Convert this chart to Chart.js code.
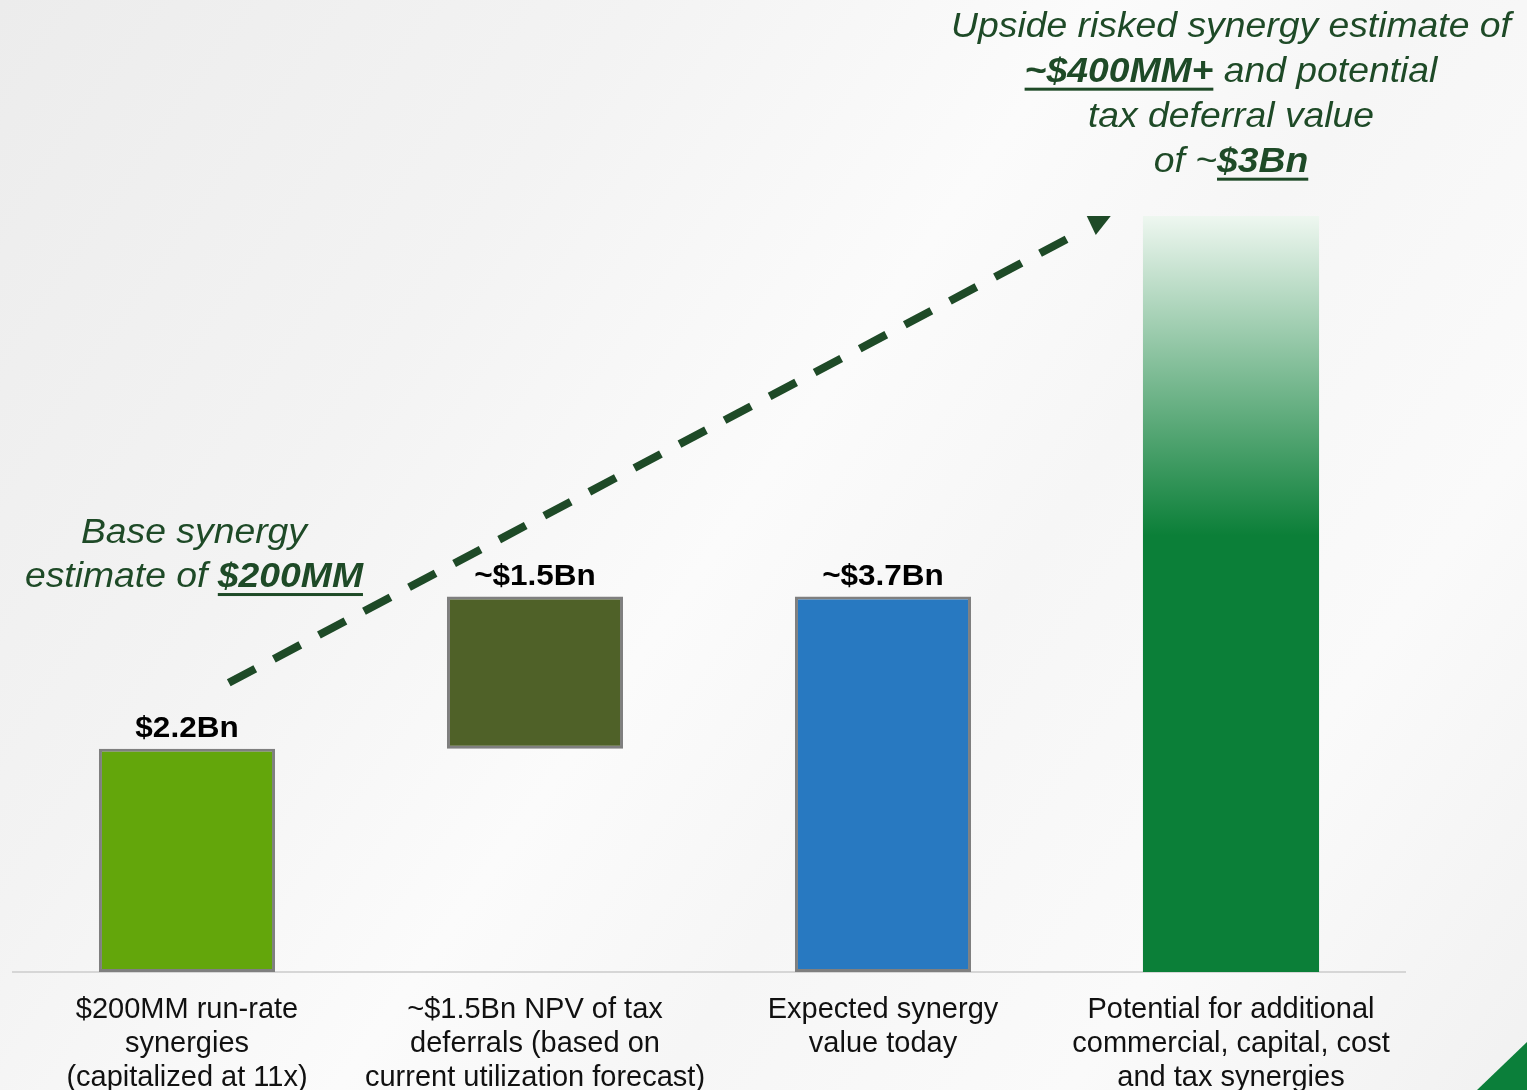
<!DOCTYPE html>
<html>
<head>
<meta charset="utf-8">
<script src="https://cdn.jsdelivr.net/npm/chart.js@4/dist/chart.umd.min.js"></script>
<style>
  html, body { margin: 0; padding: 0; overflow: hidden; }
  body {
    width: 1527px; height: 1090px; position: relative;
    background: linear-gradient(125deg, #ececec 0%, #f3f3f3 28%, #fbfbfb 48%, #f6f6f6 62%, #fafafa 80%, #f1f1f1 100%);
  }
  #wrap { position: absolute; left: 0; top: 0; width: 1527px; height: 1090px; }
  .corner {
    position: absolute; right: 0; bottom: 0; width: 50px; height: 48px;
    background: #0b7f3a; clip-path: polygon(100% 0, 100% 100%, 0 100%);
  }
</style>
</head>
<body>
<div id="wrap"><canvas id="synergy"></canvas></div>
<div class="corner"></div>
<script>
// categories shown under each bar
var categories = [
    ['$200MM run-rate', 'synergies', '(capitalized at 11x)'],
    ['~$1.5Bn NPV of tax', 'deferrals (based on', 'current utilization forecast)'],
    ['Expected synergy', 'value today'],
    ['Potential for additional', 'commercial, capital, cost', 'and tax synergies']
];

// bar spans in $Bn (bar 2 floats on top of bar 1)
var barLows   = [0, 2.2, 0, 0];
var barHighs  = [2.2, 3.7, 3.7, 7.45];
var barLabels = ['$2.2Bn', '~$1.5Bn', '~$3.7Bn', ''];

var barColors  = ['#63a60b', '#4f6128', '#2879c1', '#0b7f38'];
var barBorders = [3, 3, 3, 0];
var fadeSolidFrom = 4.3;   // value below which the last bar is solid green

// dashed trend arrow, [category index, value]
var arrowStart = [0.12, 2.85];
var arrowEnd   = [2.62, 7.39];

// italic notes: lines of runs, anchored at [category index, value]
var baseNote = {
    at: [0.02, 4.32],
    lead: 44,
    lines: [
        [{ t: 'Base synergy' }],
        [{ t: 'estimate of ' }, { t: '$200MM', b: true, u: true }]
    ]
};
var upsideNote = {
    at: [3, 9.31],
    lead: 45,
    lines: [
        [{ t: 'Upside risked synergy estimate of' }],
        [{ t: '~$400MM+', b: true, u: true }, { t: ' and potential' }],
        [{ t: 'tax deferral value' }],
        [{ t: 'of ~' }, { t: '$3Bn', b: true, u: true }]
    ]
};

var noteColor = '#1e4a27';
var noteSize = 35;
var stretchX = 1.066;   // the slide text runs a little wide
var FONT = '"Liberation Sans", Arial, sans-serif';

function runFont(r, size) {
    return 'italic ' + (r.b ? 'bold ' : '') + size + 'px ' + FONT;
}

function drawRuns(ctx, runs, cx, cy, size) {
    var total = 0;
    runs.forEach(function(r) {
        ctx.font = runFont(r, size);
        r.w = ctx.measureText(r.t).width;
        total += r.w;
    });
    ctx.save();
    ctx.translate(cx, cy);
    ctx.scale(stretchX, 1);
    var x = -total / 2;
    ctx.textAlign = 'left';
    ctx.textBaseline = 'middle';
    ctx.fillStyle = noteColor;
    runs.forEach(function(r) {
        ctx.font = runFont(r, size);
        ctx.fillText(r.t, x, 0);
        if (r.u) ctx.fillRect(x, size * 0.44, r.w, 3);
        x += r.w;
    });
    ctx.restore();
}

function drawNote(ctx, xs, ys, note) {
    var cx = xs.getPixelForValue(note.at[0]);
    var cy = ys.getPixelForValue(note.at[1]);
    note.lines.forEach(function(runs, i) {
        drawRuns(ctx, runs, cx, cy + i * note.lead, noteSize);
    });
}

var overlay = {
    id: 'overlay',
    afterDatasetsDraw: function(chart) {
        var ctx = chart.ctx;
        var xs = chart.scales.x, ys = chart.scales.y;
        ctx.save();

        // value labels over the bars
        var meta = chart.getDatasetMeta(0);
        ctx.font = 'bold 30px ' + FONT;
        ctx.fillStyle = '#000';
        ctx.textAlign = 'center';
        ctx.textBaseline = 'middle';
        meta.data.forEach(function(bar, i) {
            if (!barLabels[i]) return;
            ctx.save();
            ctx.translate(bar.x, bar.y - 20);
            ctx.scale(1.05, 1);
            ctx.fillText(barLabels[i], 0, 0);
            ctx.restore();
        });

        // dashed arrow
        var x0 = xs.getPixelForValue(arrowStart[0]), y0 = ys.getPixelForValue(arrowStart[1]);
        var x1 = xs.getPixelForValue(arrowEnd[0]),   y1 = ys.getPixelForValue(arrowEnd[1]);
        var ang = Math.atan2(y1 - y0, x1 - x0);
        ctx.strokeStyle = noteColor;
        ctx.lineWidth = 8;
        ctx.lineCap = 'butt';
        ctx.setLineDash([30, 21]);
        ctx.beginPath();
        ctx.moveTo(x0, y0);
        ctx.lineTo(x1 - 24 * Math.cos(ang), y1 - 24 * Math.sin(ang));
        ctx.stroke();
        ctx.setLineDash([]);
        ctx.fillStyle = noteColor;
        ctx.beginPath();
        ctx.moveTo(x1 - 12, y1 - 6);
        ctx.lineTo(x1 + 12, y1 - 6);
        ctx.lineTo(x1 - 3, y1 + 13);
        ctx.closePath();
        ctx.fill();

        drawNote(ctx, xs, ys, baseNote);
        drawNote(ctx, xs, ys, upsideNote);
        ctx.restore();
    }
};

new Chart(document.getElementById('synergy'), {
    type: 'bar',
    data: {
        labels: categories,
        datasets: [{
            data: barLows.map(function(lo, i) { return [lo, barHighs[i]]; }),
            backgroundColor: function(c) {
                var i = c.dataIndex;
                if (i !== 3) return barColors[i];
                var chart = c.chart;
                if (!chart.chartArea) return barColors[i];
                var ys = chart.scales.y;
                var g = chart.ctx.createLinearGradient(0, ys.getPixelForValue(barHighs[i]), 0, ys.getPixelForValue(fadeSolidFrom));
                g.addColorStop(0, '#eef7f0');
                g.addColorStop(1, barColors[i]);
                return g;
            },
            borderColor: '#7f7f7f',
            borderWidth: barBorders,
            borderSkipped: false,
            barPercentage: 0.506,
            categoryPercentage: 1
        }]
    },
    options: {
        responsive: true,
        maintainAspectRatio: false,
        animation: false,
        layout: { padding: { left: 13, right: 122, top: 8, bottom: 0 } },
        plugins: { legend: { display: false }, tooltip: { enabled: false } },
        scales: {
            x: {
                grid: { display: false, drawTicks: false },
                border: { display: true, color: '#d6d6d6', width: 2 },
                ticks: {
                    color: '#111',
                    padding: 21,
                    maxRotation: 0,
                    autoSkip: false,
                    font: { family: FONT, size: 29, lineHeight: 1.17 }
                },
                afterFit: function(scale) { scale.height = 118; }
            },
            y: { display: false, min: 0, max: 9.5 }
        }
    },
    plugins: [overlay]
});
</script>
</body>
</html>
